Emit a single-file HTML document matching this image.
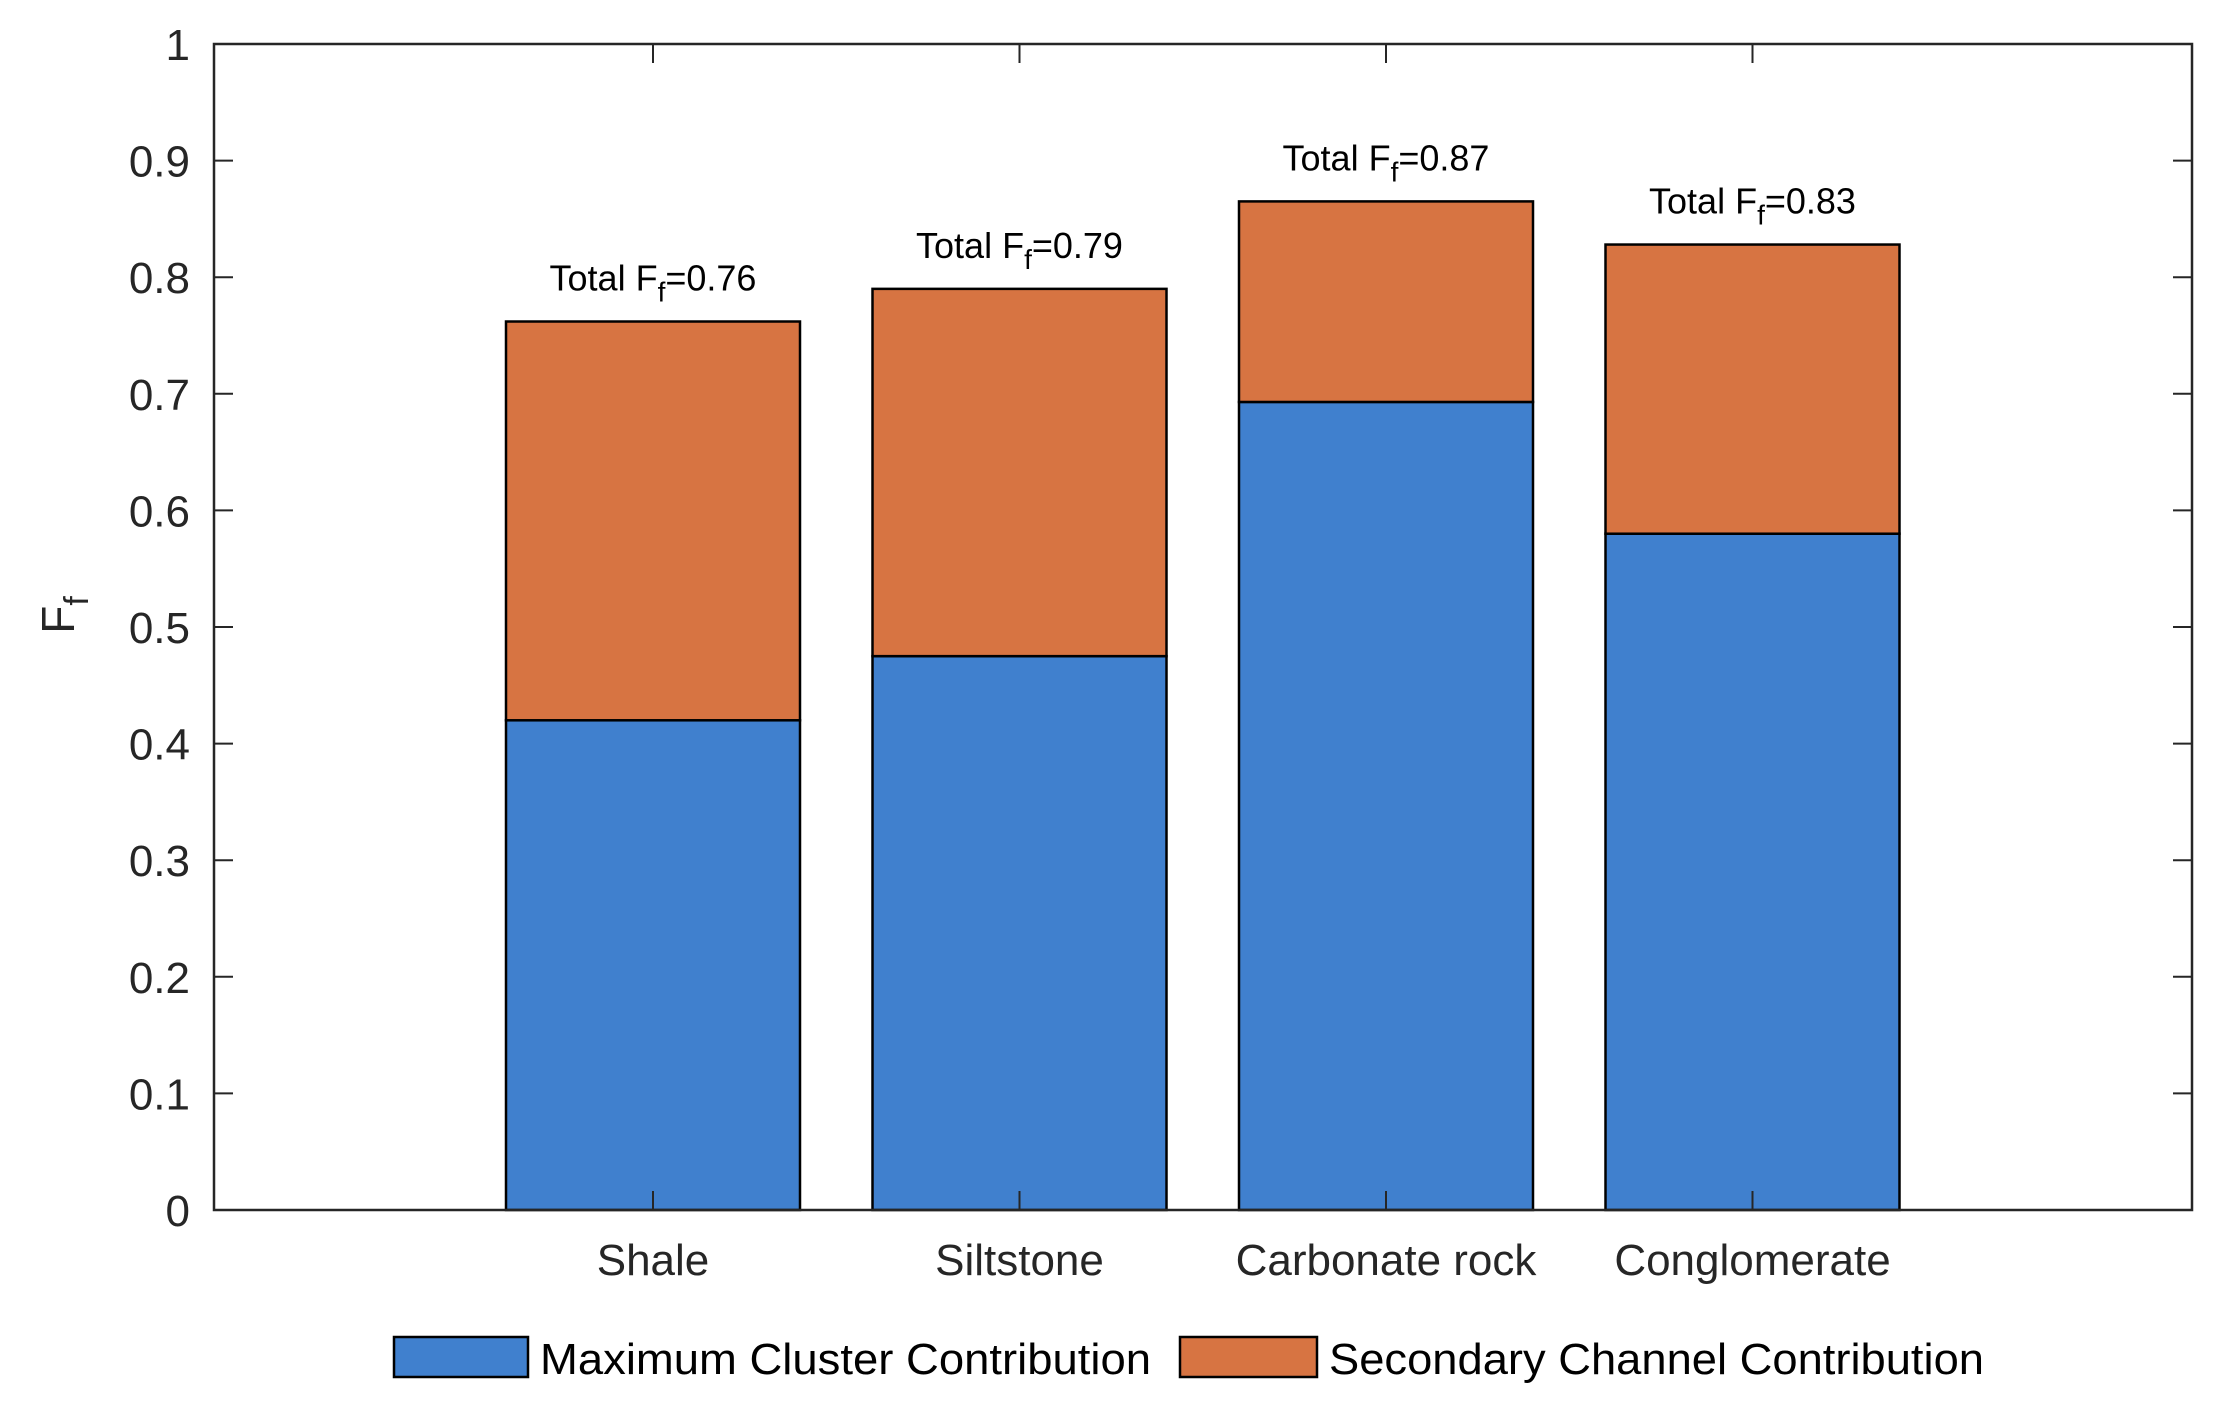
<!DOCTYPE html>
<html><head><meta charset="utf-8"><style>
html,body{margin:0;padding:0;background:#fff;}
svg{display:block;font-family:"Liberation Sans",Arial,sans-serif;}
</style></head><body>
<svg id="chart" width="2238" height="1421" viewBox="0 0 2238 1421">
<g id="bars"></g>
<g id="axes"></g>
<g id="labels"></g>
<text x="0" y="0" transform="translate(74,615) rotate(-90)" text-anchor="middle" font-size="46" fill="#262626">F<tspan font-size="34" dy="14">f</tspan></text>
<g>
<rect x="394" y="1337" width="134" height="40" fill="#4080CE" stroke="#000" stroke-width="2.5"/>
<text x="540" y="1374" font-size="44" fill="#000" textLength="611" lengthAdjust="spacingAndGlyphs">Maximum Cluster Contribution</text>
<rect x="1180" y="1337" width="137" height="40" fill="#D77442" stroke="#000" stroke-width="2.5"/>
<text x="1329" y="1374" font-size="44" fill="#000" textLength="655" lengthAdjust="spacingAndGlyphs">Secondary Channel Contribution</text>
</g>
</svg>
<script>
const categories = ["Shale","Siltstone","Carbonate rock","Conglomerate"];
const maxCluster = [0.42, 0.475, 0.693, 0.58];
const secondary = [0.342, 0.315, 0.172, 0.248];
const totalLabels = ["0.76","0.79","0.87","0.83"];
const yTicks = [0,0.1,0.2,0.3,0.4,0.5,0.6,0.7,0.8,0.9,1];
const yTickLabels = ["0","0.1","0.2","0.3","0.4","0.5","0.6","0.7","0.8","0.9","1"];

const NS = "http://www.w3.org/2000/svg";
const L = 214, R = 2192, T = 44, B = 1210;
const catStep = 366.5, cat0 = 653, barW = 294;
function xPos(i){ return cat0 + i*catStep; }
function yPos(v){ return B - v*(B-T); }
function mk(tag, attrs, parent){ const e=document.createElementNS(NS,tag); for(const k in attrs) e.setAttribute(k,attrs[k]); parent.appendChild(e); return e; }

const gb = document.getElementById("bars");
const ga = document.getElementById("axes");
const gl = document.getElementById("labels");

categories.forEach((c,i)=>{
  const cx = xPos(i);
  const y1 = yPos(maxCluster[i]);
  const r1 = mk("rect",{x:cx-barW/2,y:y1,width:barW,height:B-y1,fill:"#4080CE",stroke:"#000","stroke-width":2.5},gb);
  
  
  const y2 = yPos(maxCluster[i]+secondary[i]);
  const r2 = mk("rect",{x:cx-barW/2,y:y2,width:barW,height:y1-y2,fill:"#D77442",stroke:"#000","stroke-width":2.5},gb);
  
  
  const t = mk("text",{x:cx,y:y2-31,"text-anchor":"middle","font-size":36,fill:"#000"},gl);
  
  
  t.innerHTML = 'Total F<tspan font-size="28" dy="11">f</tspan><tspan dy="-11">='+totalLabels[i]+'</tspan>';
  const ct = mk("text",{x:cx,y:1275,"text-anchor":"middle","font-size":44,fill:"#262626"},gl);
  
  
  ct.textContent = c;
  const tb = mk("line",{x1:cx,x2:cx,y1:B,y2:B-19,stroke:"#262626","stroke-width":2},ga);
  
  
  const tt = mk("line",{x1:cx,x2:cx,y1:T,y2:T+19,stroke:"#262626","stroke-width":2},ga);
  
  
});

yTicks.forEach((v,i)=>{
  const y = yPos(v);
  const a = mk("line",{x1:L,x2:L+19,y1:y,y2:y,stroke:"#262626","stroke-width":2},ga);
  
  
  const b = mk("line",{x1:R,x2:R-19,y1:y,y2:y,stroke:"#262626","stroke-width":2},ga);
  
  
  const t = mk("text",{x:190,y:y+16,"text-anchor":"end","font-size":44,fill:"#262626"},gl);
  
  
  t.textContent = yTickLabels[i];
});

const box = mk("rect",{x:L,y:T,width:R-L,height:B-T,fill:"none",stroke:"#262626","stroke-width":2.5},ga);


</script>
</body></html>
